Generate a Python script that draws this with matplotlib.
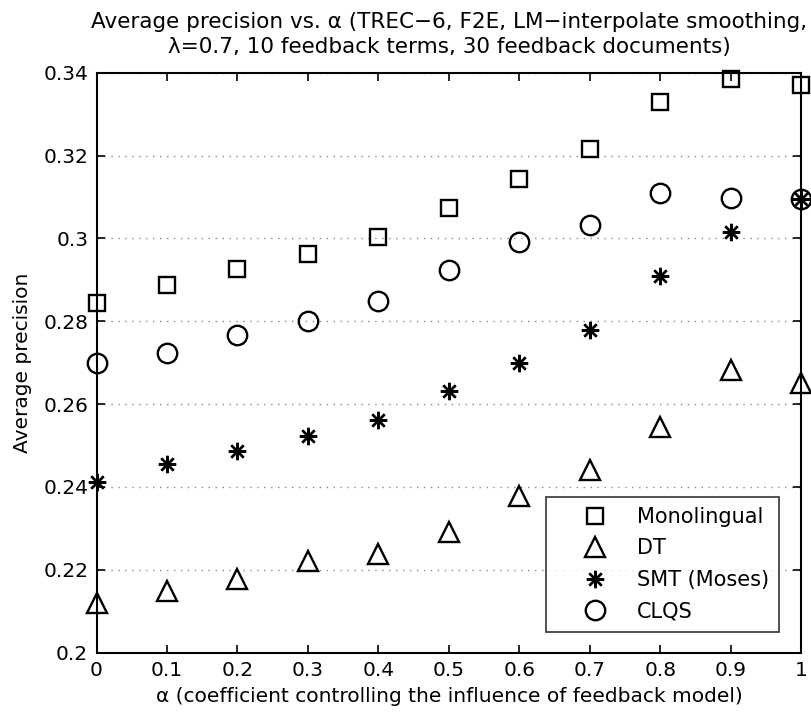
import matplotlib.pyplot as plt

# ───── Data ─────
alpha = [0.0, 0.1, 0.2, 0.3, 0.4, 0.5, 0.6, 0.7, 0.8, 0.9, 1.0]

monolingual = [0.2845, 0.2888, 0.2925, 0.2962, 0.3003, 0.3074, 0.3144, 0.3216, 0.3329, 0.3384, 0.3370]
dt          = [0.2120, 0.2148, 0.2178, 0.2221, 0.2239, 0.2292, 0.2378, 0.2442, 0.2545, 0.2682, 0.2650]
smt         = [0.2412, 0.2456, 0.2486, 0.2524, 0.2561, 0.2631, 0.2700, 0.2778, 0.2909, 0.3016, 0.3096]
clqs        = [0.2700, 0.2723, 0.2768, 0.2800, 0.2850, 0.2923, 0.2992, 0.3032, 0.3110, 0.3098, 0.3096]

x_ticks = [0, 0.1, 0.2, 0.3, 0.4, 0.5, 0.6, 0.7, 0.8, 0.9, 1]
x_tick_labels = ['0', '0.1', '0.2', '0.3', '0.4', '0.5', '0.6', '0.7', '0.8', '0.9', '1']
y_ticks = [0.2, 0.22, 0.24, 0.26, 0.28, 0.3, 0.32, 0.34]
y_tick_labels = ['0.2', '0.22', '0.24', '0.26', '0.28', '0.3', '0.32', '0.34']

plt.rcParams['font.family'] = ['DejaVu Sans']
FS = 14.5

fig = plt.figure(figsize=(8.11, 7.13), dpi=100)
ax = fig.add_axes([0.119, 0.0846, 0.869, 0.8134])

common = dict(linestyle='none', color='black', markerfacecolor='none',
              markeredgecolor='black', markeredgewidth=1.7, clip_on=False)
ax.plot(alpha, monolingual, marker='s', markersize=11.5, label='Monolingual', **common)
ax.plot(alpha, dt, marker='^', markersize=14.5, label='DT', **common)
ax.plot(alpha, smt, marker=(8, 2, 0), markersize=12.5, label='SMT (Moses)', **common)
ax.plot(alpha, clqs, marker='o', markersize=14, label='CLQS', **common)

ax.set_xlim(0, 1)
ax.set_ylim(0.2, 0.34)
ax.set_xticks(x_ticks)
ax.set_xticklabels(x_tick_labels, fontsize=FS)
ax.set_yticks(y_ticks)
ax.set_yticklabels(y_tick_labels, fontsize=FS)
ax.tick_params(direction='in', top=True, right=True, length=6, width=1.2, pad=6)

ax.yaxis.grid(True, linestyle=(0, (1, 4)), color='#888888', linewidth=1.0)
ax.set_axisbelow(True)
for sp in ax.spines.values():
    sp.set_linewidth(1.5)

ax.set_xlabel('α (coefficient controlling the influence of feedback model)', fontsize=FS, labelpad=5)
ax.set_ylabel('Average precision', fontsize=FS, labelpad=8)
ax.set_title('Average precision vs. α (TREC−6, F2E, LM−interpolate smoothing,\n'
             'λ=0.7, 10 feedback terms, 30 feedback documents)', fontsize=15.5, pad=14,
             linespacing=1.35)

leg = ax.legend(loc='lower right', bbox_to_anchor=(0.969, 0.036), borderaxespad=0,
                fontsize=15, frameon=True, fancybox=False, edgecolor='black',
                handlelength=3.7, borderpad=0.5, labelspacing=0.55, handletextpad=0.15)
leg.get_frame().set_linewidth(1.2)

fig.savefig('out.png', dpi=100)
